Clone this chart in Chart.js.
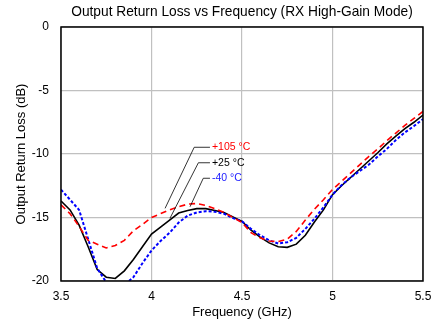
<!DOCTYPE html>
<html>
<head>
<meta charset="utf-8">
<script src="https://cdn.jsdelivr.net/npm/chart.js@4"></script>
<style>
  body { margin: 0; background: #fff; }
  canvas { display: block; }
</style>
</head>
<body>
<canvas id="rlChart" width="446" height="324"></canvas>
<script>
// Frequency points (GHz)
let freq = [3.50, 3.55, 3.60, 3.65, 3.70, 3.75, 3.80, 3.85, 3.90, 3.95,
  4.00, 4.05, 4.10, 4.15, 4.20, 4.25, 4.30, 4.35, 4.40, 4.45,
  4.50, 4.55, 4.60, 4.65, 4.70, 4.75, 4.80, 4.85, 4.90, 4.95,
  5.00, 5.05, 5.10, 5.15, 5.20, 5.25, 5.30, 5.35, 5.40, 5.45, 5.50];

// Output return loss (dB) per temperature
let rl105 = [-14.0, -14.7, -15.7, -16.8, -17.1, -17.4, -17.2, -16.8, -16.05, -15.55,
  -15.0, -14.7, -14.4, -14.15, -13.95, -13.9, -14.05, -14.3, -14.6, -15.0,
  -15.4, -16.2, -16.6, -16.85, -16.9, -16.7, -16.1, -15.2, -14.35, -13.6,
  -12.8, -12.15, -11.5, -10.85, -10.2, -9.6, -8.95, -8.35, -7.75, -7.2, -6.65];
let rl25 = [-13.7, -14.4, -15.6, -17.3, -19.1, -19.7, -19.8, -19.2, -18.3, -17.3,
  -16.3, -15.75, -15.2, -14.65, -14.45, -14.3, -14.3, -14.45, -14.6, -14.95,
  -15.3, -16.0, -16.55, -17.0, -17.3, -17.35, -17.1, -16.4, -15.35, -14.4,
  -13.2, -12.5, -11.85, -11.2, -10.55, -9.9, -9.2, -8.6, -8.0, -7.5, -6.93];
let rlm40 = [-12.8, -13.6, -14.4, -16.7, -19.0, -20.1, -20.4, -20.3, -19.7, -18.6,
  -17.6, -16.85, -16.2, -15.4, -14.85, -14.6, -14.5, -14.55, -14.7, -15.05,
  -15.3, -15.9, -16.4, -16.8, -17.05, -16.95, -16.6, -15.9, -15.1, -14.2,
  -13.2, -12.45, -11.85, -11.35, -10.85, -10.2, -9.6, -8.9, -8.3, -7.8, -7.25];

let xTicks = [3.5, 4, 4.5, 5, 5.5];
let yTicks = [-20, -15, -10, -5, 0];

// Callout labels: text anchor and the point on the curve the leader ends at
let callouts = [
  { text: '+105 °C', color: '#ff0000', corner: [4.236, -9.47], end: [4.075, -14.28] },
  { text: '+25 °C', color: '#000000', corner: [4.259, -10.69], end: [4.102, -15.06] },
  { text: '-40 °C', color: '#2020ff', corner: [4.286, -11.91], end: [4.213, -14.15] }
];

function toPoints(ys) {
  return freq.map(function (f, i) { return { x: f, y: ys[i] }; });
}

const frameAndCallouts = {
  id: 'frameAndCallouts',
  afterDatasetsDraw(chart) {
    const ctx = chart.ctx;
    const a = chart.chartArea;
    const xs = chart.scales.x;
    const ys = chart.scales.y;
    ctx.save();
    // leader lines and labels
    const xText = xs.getPixelForValue(4.323);
    callouts.forEach(function (c) {
      const cx = xs.getPixelForValue(c.corner[0]);
      const cy = ys.getPixelForValue(c.corner[1]);
      ctx.beginPath();
      ctx.strokeStyle = '#000';
      ctx.lineWidth = 0.8;
      ctx.moveTo(xText, cy);
      ctx.lineTo(cx, cy);
      ctx.lineTo(xs.getPixelForValue(c.end[0]), ys.getPixelForValue(c.end[1]));
      ctx.stroke();
      ctx.fillStyle = c.color;
      ctx.font = '10.5px "Liberation Sans", Arial, sans-serif';
      ctx.textBaseline = 'middle';
      ctx.textAlign = 'left';
      ctx.fillText(c.text, xText + 2, cy);
    });
    // plot frame
    ctx.strokeStyle = '#000';
    ctx.lineWidth = 1.5;
    ctx.strokeRect(a.left, a.top, a.right - a.left, a.bottom - a.top);
    ctx.restore();
  }
};

let ctx = document.getElementById('rlChart');
let rlChart = new Chart(ctx, {
  type: 'line',
  data: {
    datasets: [{
      label: '+105 °C',
      data: toPoints(rl105),
      borderColor: '#ff0000',
      borderWidth: 1.6,
      borderDash: [6, 4],
      pointRadius: 0,
      tension: 0
    },
    {
      label: '-40 °C',
      data: toPoints(rlm40),
      borderColor: '#0000ff',
      borderWidth: 2,
      borderDash: [3, 2],
      pointRadius: 0,
      tension: 0
    },
    {
      label: '+25 °C',
      data: toPoints(rl25),
      borderColor: '#000000',
      borderWidth: 1.6,
      pointRadius: 0,
      tension: 0
    }]
  },
  options: {
    responsive: false,
    animation: false,
    layout: { padding: { left: 0, right: 23, top: 0, bottom: 0 } },
    scales: {
      x: {
        type: 'linear',
        min: 3.5,
        max: 5.5,
        afterFit: function (s) { s.height = 43; },
        afterBuildTicks: function (s) { s.ticks = xTicks.map(function (v) { return { value: v }; }); },
        ticks: {
          color: '#000',
          padding: 8,
          maxRotation: 0,
          font: { family: '"Liberation Sans", Arial, sans-serif', size: 12 },
          callback: function (v) { return String(v); }
        },
        grid: { color: '#c0c0c0', lineWidth: 1.2, drawTicks: false },
        border: { display: false },
        title: {
          display: true,
          text: 'Frequency (GHz)',
          color: '#000',
          padding: { top: 0, bottom: 4 },
          font: { family: '"Liberation Sans", Arial, sans-serif', size: 13 }
        }
      },
      y: {
        min: -20,
        max: 0,
        afterFit: function (s) { s.width = 61; },
        afterBuildTicks: function (s) { s.ticks = yTicks.map(function (v) { return { value: v }; }); },
        ticks: {
          color: '#000',
          padding: 12,
          font: { family: '"Liberation Sans", Arial, sans-serif', size: 12 },
          callback: function (v) { return String(v); }
        },
        grid: { color: '#c0c0c0', lineWidth: 1.2, drawTicks: false },
        border: { display: false },
        title: {
          display: true,
          text: 'Output Return Loss (dB)',
          color: '#000',
          padding: { top: 14, bottom: 0 },
          font: { family: '"Liberation Sans", Arial, sans-serif', size: 13 }
        }
      }
    },
    plugins: {
      legend: { display: false },
      tooltip: { enabled: false },
      title: {
        display: true,
        fullSize: false,
        text: 'Output Return Loss vs Frequency (RX High-Gain Mode)',
        color: '#000',
        padding: { top: 3.5, bottom: 7 },
        font: { family: '"Liberation Sans", Arial, sans-serif', size: 13.75, weight: 'normal' }
      }
    }
  },
  plugins: [frameAndCallouts]
});
</script>
</body>
</html>
